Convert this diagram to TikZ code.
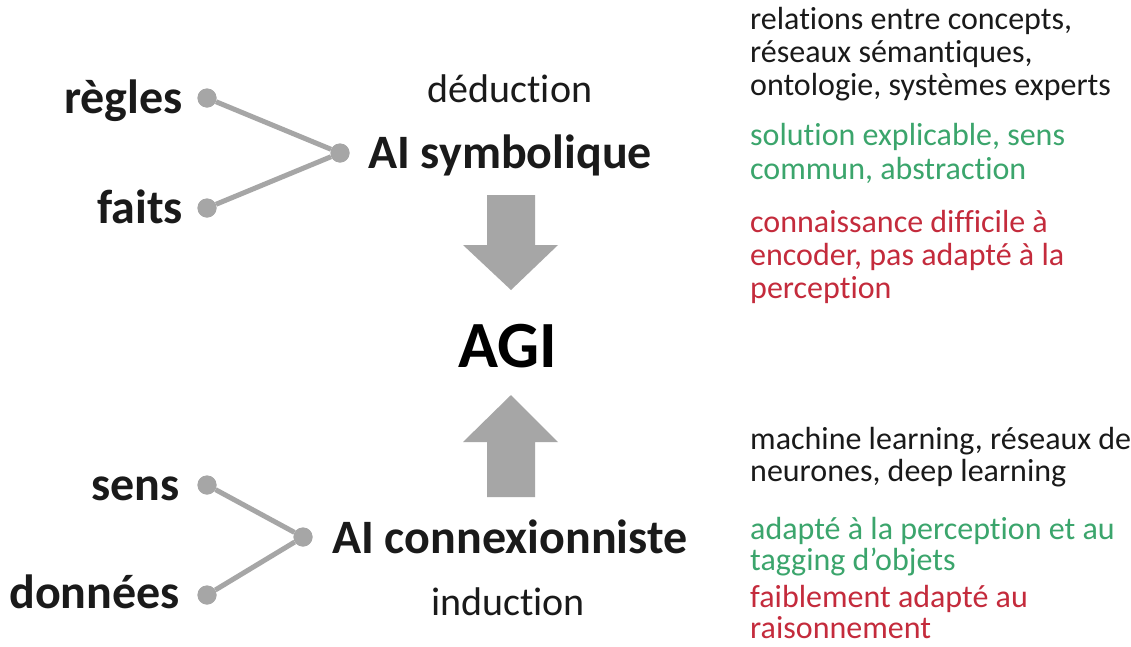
\documentclass[tikz,border=0pt]{standalone}
\usepackage{fontspec}
\setmainfont{Carlito}[Ligatures={NoCommon}]
\definecolor{lgray}{HTML}{A6A6A6}
\definecolor{txtblack}{HTML}{1A1A1A}
\definecolor{goodgreen}{HTML}{3BA56C}
\definecolor{badred}{HTML}{C42B3C}
\tikzset{
  dot/.style={circle,fill=lgray,inner sep=0pt,minimum size=19pt},
  link/.style={draw=lgray,line width=5pt},
  biglabel/.style={inner sep=0pt,font=\fontsize{48}{56}\selectfont\bfseries,text=txtblack},
  method/.style={inner sep=0pt,font=\fontsize{40}{48}\selectfont,text=txtblack},
  note/.style={inner sep=0pt,anchor=base west,font=\fontsize{32}{34}\selectfont},
  blacknote/.style={note,text=txtblack},
  greennote/.style={note,text=goodgreen},
  rednote/.style={note,text=badred},
  bigarrow/.style={fill=lgray,draw=none}
}
\begin{document}
\begin{tikzpicture}[x=1pt,y=-1pt]
\useasboundingbox (0,0) rectangle (1131,646);
\fill[white] (0,0) rectangle (1131,646);
% top group
\node[dot] (dr) at (207,98) {};
\node[dot] (df) at (207,208) {};
\node[dot] (hs) at (340,153) {};
\draw[link] (dr) -- (hs);
\draw[link] (df) -- (hs);
\node[dot] at (207,98) {};
\node[dot] at (207,208) {};
\node[dot] at (340,153) {};
\node[biglabel,anchor=base east] (regles) at (183,113) {règles};
\node[biglabel,anchor=base east] (faits) at (183,223) {faits};
\node[biglabel,anchor=base west] (sym) at (368,168) {AI symbolique};
\node[method,anchor=base] (ded) at (510,102) {déduction};
% bottom group
\node[dot] (ds) at (207,485) {};
\node[dot] (dd) at (207,595) {};
\node[dot] (hc) at (303,537) {};
\draw[link] (ds) -- (hc);
\draw[link] (dd) -- (hc);
\node[dot] at (207,485) {};
\node[dot] at (207,595) {};
\node[dot] at (303,537) {};
\node[biglabel,anchor=base east] (sens) at (180,500) {sens};
\node[biglabel,anchor=base east] (donnees) at (180,608) {données};
\node[biglabel,anchor=base west] (con) at (332,553) {AI connexionniste};
\node[method,anchor=base] (ind) at (508,615) {induction};
% AGI and arrows
\node[inner sep=0pt,anchor=base,font=\fontsize{66}{70}\selectfont\bfseries,text=black] (agi) at (508,367) {AGI};
\fill[bigarrow] (487,195) -- (535,195) -- (535,245) -- (558,245) -- (511,290) -- (463,245) -- (487,245) -- cycle;
\fill[bigarrow] (511,395) -- (558,442) -- (535,442) -- (535,497) -- (487,497) -- (487,442) -- (463,442) -- cycle;
% right notes top
\node[blacknote] (t1) at (750,29) {relations entre concepts,};
\node[blacknote] (t2) at (750,62) {réseaux sémantiques,};
\node[blacknote] (t3) at (750,95) {ontologie, systèmes experts};
\node[greennote] (t4) at (750,145) {solution explicable, sens};
\node[greennote] (t5) at (750,179) {commun, abstraction};
\node[rednote] (t6) at (750,232) {connaissance difficile à};
\node[rednote] (t7) at (750,265) {encoder, pas adapté à la};
\node[rednote] (t8) at (750,298) {perception};
% right notes bottom
\node[blacknote] (b1) at (750,449) {machine learning, réseaux de};
\node[blacknote] (b2) at (750,481) {neurones, deep learning};
\node[greennote] (b3) at (750,539) {adapté à la perception et au};
\node[greennote] (b4) at (750,570) {tagging d’objets};
\node[rednote] (b5) at (750,607) {faiblement adapté au};
\node[rednote] (b6) at (750,638) {raisonnement};
\end{tikzpicture}
\end{document}
